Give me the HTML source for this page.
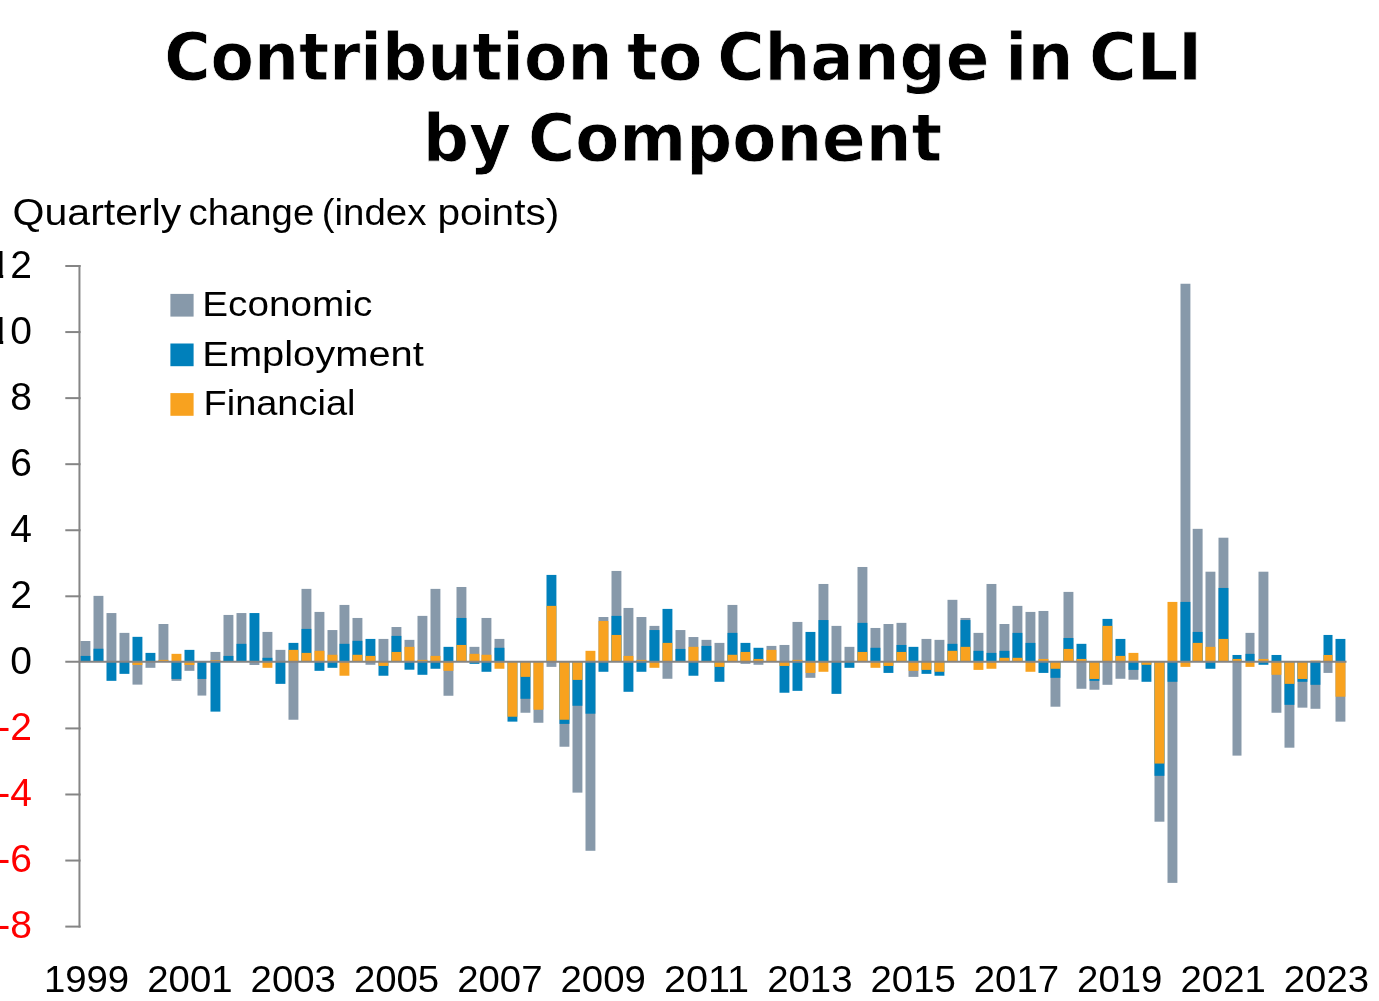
<!DOCTYPE html>
<html lang="en"><head><meta charset="utf-8"><title>Contribution to Change in CLI by Component</title>
<style>html,body{margin:0;padding:0;background:#fff}body{width:1379px;height:1001px;overflow:hidden}svg{display:block}.t{font-family:"Liberation Sans",sans-serif;fill:#000}.h{font-family:"Liberation Sans",sans-serif;font-weight:bold;fill:#000}.r{fill:#FF0000}</style></head><body>
<svg width="1379" height="1001" viewBox="0 0 1379 1001">
<rect width="1379" height="1001" fill="#fff"/>
<g id="title" font-family="DejaVu Sans, Liberation Sans, sans-serif" fill="#000" font-weight="bold" stroke="#fff" stroke-width="0.8">
<text x="164.22" y="80.4" font-size="66.5" textLength="448.19" lengthAdjust="spacingAndGlyphs">Contribution</text>
<text x="627.09" y="80.4" font-size="66.5" textLength="75.41" lengthAdjust="spacingAndGlyphs">to</text>
<text x="717.19" y="80.4" font-size="66.5" textLength="272.19" lengthAdjust="spacingAndGlyphs">Change</text>
<text x="1005.36" y="80.4" font-size="66.5" textLength="68.04" lengthAdjust="spacingAndGlyphs">in</text>
<text x="1089.00" y="80.4" font-size="66.5" textLength="113.31" lengthAdjust="spacingAndGlyphs">CLI</text>
<text x="422.82" y="160.6" font-size="66.5" textLength="88.45" lengthAdjust="spacingAndGlyphs">by</text>
<text x="528.05" y="160.6" font-size="66.5" textLength="414.08" lengthAdjust="spacingAndGlyphs">Component</text>
</g>
<g id="subtitle">
<text class="t" x="12.57" y="225.3" font-size="37" textLength="168.84" lengthAdjust="spacingAndGlyphs">Quarterly</text>
<text class="t" x="188.57" y="225.3" font-size="37" textLength="125.67" lengthAdjust="spacingAndGlyphs">change</text>
<text class="t" x="321.75" y="225.3" font-size="37" textLength="104.65" lengthAdjust="spacingAndGlyphs">(index</text>
<text class="t" x="437.48" y="225.3" font-size="37" textLength="121.81" lengthAdjust="spacingAndGlyphs">points)</text>
</g>
<g id="bars" shape-rendering="auto">
<rect x="80.50" y="641.00" width="9.9" height="20.96" fill="#8799AA"/>
<rect x="80.50" y="655.91" width="9.9" height="6.04" fill="#0080BB"/>
<rect x="93.50" y="595.87" width="9.9" height="66.09" fill="#8799AA"/>
<rect x="93.50" y="648.74" width="9.9" height="13.22" fill="#0080BB"/>
<rect x="106.50" y="613.05" width="9.9" height="48.90" fill="#8799AA"/>
<rect x="106.50" y="661.96" width="9.9" height="18.88" fill="#0080BB"/>
<rect x="119.50" y="632.88" width="9.9" height="29.08" fill="#8799AA"/>
<rect x="119.50" y="661.96" width="9.9" height="11.90" fill="#0080BB"/>
<rect x="132.50" y="636.84" width="9.9" height="25.11" fill="#0080BB"/>
<rect x="132.50" y="661.96" width="9.9" height="22.66" fill="#8799AA"/>
<rect x="132.50" y="661.96" width="9.9" height="3.02" fill="#F8A21F"/>
<rect x="145.50" y="652.89" width="9.9" height="9.06" fill="#0080BB"/>
<rect x="145.50" y="661.96" width="9.9" height="5.85" fill="#8799AA"/>
<rect x="158.50" y="624.00" width="9.9" height="37.95" fill="#8799AA"/>
<rect x="158.50" y="659.88" width="9.9" height="2.08" fill="#F8A21F"/>
<rect x="171.50" y="653.84" width="9.9" height="8.12" fill="#F8A21F"/>
<rect x="171.50" y="661.96" width="9.9" height="18.88" fill="#8799AA"/>
<rect x="171.50" y="661.96" width="9.9" height="16.99" fill="#0080BB"/>
<rect x="184.50" y="649.87" width="9.9" height="12.08" fill="#0080BB"/>
<rect x="184.50" y="661.96" width="9.9" height="8.87" fill="#8799AA"/>
<rect x="184.50" y="661.96" width="9.9" height="3.02" fill="#F8A21F"/>
<rect x="197.50" y="661.96" width="8.8" height="33.61" fill="#8799AA"/>
<rect x="197.50" y="661.96" width="8.8" height="16.99" fill="#0080BB"/>
<rect x="210.50" y="651.95" width="9.9" height="10.01" fill="#8799AA"/>
<rect x="210.50" y="660.26" width="9.9" height="1.70" fill="#F8A21F"/>
<rect x="210.50" y="661.96" width="9.9" height="49.66" fill="#0080BB"/>
<rect x="223.50" y="614.94" width="9.9" height="47.02" fill="#8799AA"/>
<rect x="223.50" y="655.91" width="9.9" height="6.04" fill="#0080BB"/>
<rect x="236.50" y="613.05" width="9.9" height="48.90" fill="#8799AA"/>
<rect x="236.50" y="643.83" width="9.9" height="18.13" fill="#0080BB"/>
<rect x="249.50" y="613.05" width="9.9" height="48.90" fill="#0080BB"/>
<rect x="249.50" y="661.96" width="9.9" height="3.02" fill="#8799AA"/>
<rect x="262.50" y="631.93" width="9.9" height="30.02" fill="#8799AA"/>
<rect x="262.50" y="657.80" width="9.9" height="4.15" fill="#0080BB"/>
<rect x="262.50" y="661.96" width="9.9" height="5.85" fill="#F8A21F"/>
<rect x="275.50" y="649.87" width="9.9" height="12.08" fill="#8799AA"/>
<rect x="275.50" y="661.96" width="9.9" height="21.90" fill="#0080BB"/>
<rect x="288.50" y="642.89" width="9.9" height="19.07" fill="#0080BB"/>
<rect x="288.50" y="649.87" width="9.9" height="12.08" fill="#F8A21F"/>
<rect x="288.50" y="661.96" width="9.9" height="57.78" fill="#8799AA"/>
<rect x="301.50" y="588.88" width="9.9" height="73.07" fill="#8799AA"/>
<rect x="301.50" y="628.91" width="9.9" height="33.04" fill="#0080BB"/>
<rect x="301.50" y="652.89" width="9.9" height="9.06" fill="#F8A21F"/>
<rect x="314.50" y="611.92" width="9.9" height="50.04" fill="#8799AA"/>
<rect x="314.50" y="650.82" width="9.9" height="11.14" fill="#F8A21F"/>
<rect x="314.50" y="661.96" width="9.9" height="8.87" fill="#0080BB"/>
<rect x="327.50" y="630.05" width="9.9" height="31.91" fill="#8799AA"/>
<rect x="327.50" y="654.78" width="9.9" height="7.18" fill="#F8A21F"/>
<rect x="327.50" y="661.96" width="9.9" height="5.85" fill="#0080BB"/>
<rect x="339.50" y="604.93" width="9.9" height="57.02" fill="#8799AA"/>
<rect x="339.50" y="643.83" width="9.9" height="18.13" fill="#0080BB"/>
<rect x="339.50" y="661.96" width="9.9" height="13.78" fill="#F8A21F"/>
<rect x="352.50" y="617.96" width="9.9" height="44.00" fill="#8799AA"/>
<rect x="352.50" y="640.81" width="9.9" height="21.15" fill="#0080BB"/>
<rect x="352.50" y="654.78" width="9.9" height="7.18" fill="#F8A21F"/>
<rect x="365.50" y="638.92" width="9.9" height="23.04" fill="#0080BB"/>
<rect x="365.50" y="655.91" width="9.9" height="6.04" fill="#F8A21F"/>
<rect x="365.50" y="661.96" width="9.9" height="2.83" fill="#8799AA"/>
<rect x="378.50" y="638.92" width="9.9" height="23.04" fill="#8799AA"/>
<rect x="378.50" y="661.96" width="9.9" height="13.78" fill="#0080BB"/>
<rect x="378.50" y="661.96" width="9.9" height="3.97" fill="#F8A21F"/>
<rect x="391.50" y="627.02" width="9.9" height="34.93" fill="#8799AA"/>
<rect x="391.50" y="635.90" width="9.9" height="26.06" fill="#0080BB"/>
<rect x="391.50" y="651.95" width="9.9" height="10.01" fill="#F8A21F"/>
<rect x="404.50" y="639.86" width="9.9" height="22.09" fill="#8799AA"/>
<rect x="404.50" y="646.85" width="9.9" height="15.11" fill="#F8A21F"/>
<rect x="404.50" y="661.96" width="9.9" height="7.74" fill="#0080BB"/>
<rect x="417.50" y="615.88" width="9.9" height="46.07" fill="#8799AA"/>
<rect x="417.50" y="659.88" width="9.9" height="2.08" fill="#F8A21F"/>
<rect x="417.50" y="661.96" width="9.9" height="12.84" fill="#0080BB"/>
<rect x="430.50" y="588.88" width="9.9" height="73.07" fill="#8799AA"/>
<rect x="430.50" y="655.91" width="9.9" height="6.04" fill="#F8A21F"/>
<rect x="430.50" y="661.96" width="9.9" height="6.80" fill="#0080BB"/>
<rect x="443.50" y="646.85" width="9.9" height="15.11" fill="#0080BB"/>
<rect x="443.50" y="661.96" width="9.9" height="33.80" fill="#8799AA"/>
<rect x="443.50" y="661.96" width="9.9" height="8.87" fill="#F8A21F"/>
<rect x="456.50" y="586.99" width="9.9" height="74.96" fill="#8799AA"/>
<rect x="456.50" y="617.96" width="9.9" height="44.00" fill="#0080BB"/>
<rect x="456.50" y="644.96" width="9.9" height="16.99" fill="#F8A21F"/>
<rect x="469.50" y="646.85" width="9.9" height="15.11" fill="#8799AA"/>
<rect x="469.50" y="653.84" width="9.9" height="8.12" fill="#F8A21F"/>
<rect x="469.50" y="661.96" width="9.9" height="1.89" fill="#0080BB"/>
<rect x="481.50" y="617.96" width="9.9" height="44.00" fill="#8799AA"/>
<rect x="481.50" y="654.78" width="9.9" height="7.18" fill="#F8A21F"/>
<rect x="481.50" y="661.96" width="9.9" height="9.82" fill="#0080BB"/>
<rect x="494.50" y="638.92" width="9.9" height="23.04" fill="#8799AA"/>
<rect x="494.50" y="647.79" width="9.9" height="14.16" fill="#0080BB"/>
<rect x="494.50" y="661.96" width="9.9" height="6.80" fill="#F8A21F"/>
<rect x="507.50" y="661.96" width="9.9" height="59.67" fill="#0080BB"/>
<rect x="507.50" y="661.96" width="9.9" height="54.76" fill="#F8A21F"/>
<rect x="520.50" y="661.96" width="9.9" height="50.79" fill="#8799AA"/>
<rect x="520.50" y="661.96" width="9.9" height="36.82" fill="#0080BB"/>
<rect x="520.50" y="661.96" width="9.9" height="14.92" fill="#F8A21F"/>
<rect x="533.50" y="661.96" width="9.9" height="60.80" fill="#8799AA"/>
<rect x="533.50" y="661.96" width="9.9" height="47.77" fill="#F8A21F"/>
<rect x="546.50" y="574.91" width="9.9" height="87.05" fill="#0080BB"/>
<rect x="546.50" y="605.88" width="9.9" height="56.08" fill="#F8A21F"/>
<rect x="546.50" y="661.96" width="9.9" height="4.91" fill="#8799AA"/>
<rect x="559.50" y="661.96" width="9.9" height="84.78" fill="#8799AA"/>
<rect x="559.50" y="661.96" width="9.9" height="61.93" fill="#0080BB"/>
<rect x="559.50" y="661.96" width="9.9" height="57.78" fill="#F8A21F"/>
<rect x="572.50" y="661.96" width="9.9" height="130.66" fill="#8799AA"/>
<rect x="572.50" y="661.96" width="9.9" height="43.81" fill="#0080BB"/>
<rect x="572.50" y="661.96" width="9.9" height="17.94" fill="#F8A21F"/>
<rect x="585.50" y="650.82" width="9.9" height="11.14" fill="#F8A21F"/>
<rect x="585.50" y="661.96" width="9.9" height="188.82" fill="#8799AA"/>
<rect x="585.50" y="661.96" width="9.9" height="51.74" fill="#0080BB"/>
<rect x="598.50" y="617.02" width="9.9" height="44.94" fill="#8799AA"/>
<rect x="598.50" y="620.98" width="9.9" height="40.97" fill="#F8A21F"/>
<rect x="598.50" y="661.96" width="9.9" height="9.82" fill="#0080BB"/>
<rect x="611.50" y="570.94" width="9.9" height="91.01" fill="#8799AA"/>
<rect x="611.50" y="615.88" width="9.9" height="46.07" fill="#0080BB"/>
<rect x="611.50" y="634.95" width="9.9" height="27.00" fill="#F8A21F"/>
<rect x="623.50" y="607.95" width="9.9" height="54.00" fill="#8799AA"/>
<rect x="623.50" y="655.91" width="9.9" height="6.04" fill="#F8A21F"/>
<rect x="623.50" y="661.96" width="9.9" height="29.83" fill="#0080BB"/>
<rect x="636.50" y="617.02" width="9.9" height="44.94" fill="#8799AA"/>
<rect x="636.50" y="659.88" width="9.9" height="2.08" fill="#F8A21F"/>
<rect x="636.50" y="661.96" width="9.9" height="9.82" fill="#0080BB"/>
<rect x="649.50" y="625.89" width="9.9" height="36.06" fill="#8799AA"/>
<rect x="649.50" y="630.05" width="9.9" height="31.91" fill="#0080BB"/>
<rect x="649.50" y="661.96" width="9.9" height="5.85" fill="#F8A21F"/>
<rect x="662.50" y="608.90" width="9.9" height="53.06" fill="#0080BB"/>
<rect x="662.50" y="642.89" width="9.9" height="19.07" fill="#F8A21F"/>
<rect x="662.50" y="661.96" width="9.9" height="16.81" fill="#8799AA"/>
<rect x="675.50" y="630.05" width="9.9" height="31.91" fill="#8799AA"/>
<rect x="675.50" y="648.93" width="9.9" height="13.03" fill="#0080BB"/>
<rect x="688.50" y="637.03" width="9.9" height="24.92" fill="#8799AA"/>
<rect x="688.50" y="646.85" width="9.9" height="15.11" fill="#F8A21F"/>
<rect x="688.50" y="661.96" width="9.9" height="13.78" fill="#0080BB"/>
<rect x="701.50" y="639.86" width="9.9" height="22.09" fill="#8799AA"/>
<rect x="701.50" y="645.91" width="9.9" height="16.05" fill="#0080BB"/>
<rect x="714.50" y="642.89" width="9.9" height="19.07" fill="#8799AA"/>
<rect x="714.50" y="661.96" width="9.9" height="19.83" fill="#0080BB"/>
<rect x="714.50" y="661.96" width="9.9" height="4.91" fill="#F8A21F"/>
<rect x="727.50" y="604.93" width="9.9" height="57.02" fill="#8799AA"/>
<rect x="727.50" y="632.88" width="9.9" height="29.08" fill="#0080BB"/>
<rect x="727.50" y="654.78" width="9.9" height="7.18" fill="#F8A21F"/>
<rect x="740.50" y="642.89" width="9.9" height="19.07" fill="#0080BB"/>
<rect x="740.50" y="651.95" width="9.9" height="10.01" fill="#F8A21F"/>
<rect x="740.50" y="661.96" width="9.9" height="1.89" fill="#8799AA"/>
<rect x="753.50" y="647.79" width="9.9" height="14.16" fill="#0080BB"/>
<rect x="753.50" y="658.94" width="9.9" height="3.02" fill="#F8A21F"/>
<rect x="753.50" y="661.96" width="9.9" height="2.83" fill="#8799AA"/>
<rect x="766.50" y="645.91" width="9.9" height="16.05" fill="#8799AA"/>
<rect x="766.50" y="649.87" width="9.9" height="12.08" fill="#F8A21F"/>
<rect x="779.50" y="644.96" width="9.9" height="16.99" fill="#8799AA"/>
<rect x="779.50" y="661.96" width="9.9" height="30.78" fill="#0080BB"/>
<rect x="779.50" y="661.96" width="9.9" height="3.97" fill="#F8A21F"/>
<rect x="792.50" y="621.93" width="9.9" height="40.03" fill="#8799AA"/>
<rect x="792.50" y="659.88" width="9.9" height="2.08" fill="#F8A21F"/>
<rect x="792.50" y="661.96" width="9.9" height="28.89" fill="#0080BB"/>
<rect x="805.50" y="631.93" width="9.9" height="30.02" fill="#0080BB"/>
<rect x="805.50" y="661.96" width="9.9" height="15.86" fill="#8799AA"/>
<rect x="805.50" y="661.96" width="9.9" height="10.95" fill="#F8A21F"/>
<rect x="818.50" y="583.97" width="9.9" height="77.98" fill="#8799AA"/>
<rect x="818.50" y="620.04" width="9.9" height="41.92" fill="#0080BB"/>
<rect x="818.50" y="661.96" width="9.9" height="9.82" fill="#F8A21F"/>
<rect x="831.50" y="625.89" width="9.9" height="36.06" fill="#8799AA"/>
<rect x="831.50" y="661.96" width="9.9" height="31.91" fill="#0080BB"/>
<rect x="844.50" y="646.85" width="9.9" height="15.11" fill="#8799AA"/>
<rect x="844.50" y="661.96" width="9.9" height="5.85" fill="#0080BB"/>
<rect x="857.50" y="566.98" width="9.9" height="94.98" fill="#8799AA"/>
<rect x="857.50" y="622.87" width="9.9" height="39.09" fill="#0080BB"/>
<rect x="857.50" y="651.95" width="9.9" height="10.01" fill="#F8A21F"/>
<rect x="870.50" y="627.97" width="9.9" height="33.99" fill="#8799AA"/>
<rect x="870.50" y="647.79" width="9.9" height="14.16" fill="#0080BB"/>
<rect x="870.50" y="661.96" width="9.9" height="5.85" fill="#F8A21F"/>
<rect x="883.50" y="624.00" width="9.9" height="37.95" fill="#8799AA"/>
<rect x="883.50" y="661.96" width="9.9" height="10.95" fill="#0080BB"/>
<rect x="883.50" y="661.96" width="9.9" height="3.97" fill="#F8A21F"/>
<rect x="896.50" y="622.87" width="9.9" height="39.09" fill="#8799AA"/>
<rect x="896.50" y="644.96" width="9.9" height="16.99" fill="#0080BB"/>
<rect x="896.50" y="651.95" width="9.9" height="10.01" fill="#F8A21F"/>
<rect x="908.50" y="646.85" width="9.9" height="15.11" fill="#0080BB"/>
<rect x="908.50" y="661.96" width="9.9" height="14.92" fill="#8799AA"/>
<rect x="908.50" y="661.96" width="9.9" height="8.87" fill="#F8A21F"/>
<rect x="921.50" y="638.92" width="9.9" height="23.04" fill="#8799AA"/>
<rect x="921.50" y="661.96" width="9.9" height="11.90" fill="#0080BB"/>
<rect x="921.50" y="661.96" width="9.9" height="7.93" fill="#F8A21F"/>
<rect x="934.50" y="639.86" width="9.9" height="22.09" fill="#8799AA"/>
<rect x="934.50" y="661.96" width="9.9" height="13.78" fill="#0080BB"/>
<rect x="934.50" y="661.96" width="9.9" height="9.82" fill="#F8A21F"/>
<rect x="947.50" y="599.83" width="9.9" height="62.12" fill="#8799AA"/>
<rect x="947.50" y="643.83" width="9.9" height="18.13" fill="#0080BB"/>
<rect x="947.50" y="650.82" width="9.9" height="11.14" fill="#F8A21F"/>
<rect x="960.50" y="617.96" width="9.9" height="44.00" fill="#8799AA"/>
<rect x="960.50" y="620.04" width="9.9" height="41.92" fill="#0080BB"/>
<rect x="960.50" y="646.85" width="9.9" height="15.11" fill="#F8A21F"/>
<rect x="973.50" y="632.88" width="9.9" height="29.08" fill="#8799AA"/>
<rect x="973.50" y="650.82" width="9.9" height="11.14" fill="#0080BB"/>
<rect x="973.50" y="661.96" width="9.9" height="7.93" fill="#F8A21F"/>
<rect x="986.50" y="583.97" width="9.9" height="77.98" fill="#8799AA"/>
<rect x="986.50" y="652.89" width="9.9" height="9.06" fill="#0080BB"/>
<rect x="986.50" y="661.96" width="9.9" height="6.80" fill="#F8A21F"/>
<rect x="999.50" y="624.00" width="9.9" height="37.95" fill="#8799AA"/>
<rect x="999.50" y="650.82" width="9.9" height="11.14" fill="#0080BB"/>
<rect x="999.50" y="657.80" width="9.9" height="4.15" fill="#F8A21F"/>
<rect x="1012.50" y="605.88" width="9.9" height="56.08" fill="#8799AA"/>
<rect x="1012.50" y="632.88" width="9.9" height="29.08" fill="#0080BB"/>
<rect x="1012.50" y="657.80" width="9.9" height="4.15" fill="#F8A21F"/>
<rect x="1025.50" y="611.92" width="9.9" height="50.04" fill="#8799AA"/>
<rect x="1025.50" y="642.89" width="9.9" height="19.07" fill="#0080BB"/>
<rect x="1025.50" y="661.96" width="9.9" height="9.82" fill="#F8A21F"/>
<rect x="1038.50" y="610.97" width="9.9" height="50.98" fill="#8799AA"/>
<rect x="1038.50" y="658.94" width="9.9" height="3.02" fill="#F8A21F"/>
<rect x="1038.50" y="661.96" width="9.9" height="10.95" fill="#0080BB"/>
<rect x="1050.50" y="661.96" width="9.9" height="44.75" fill="#8799AA"/>
<rect x="1050.50" y="661.96" width="9.9" height="15.86" fill="#0080BB"/>
<rect x="1050.50" y="661.96" width="9.9" height="6.80" fill="#F8A21F"/>
<rect x="1063.50" y="591.90" width="9.9" height="70.05" fill="#8799AA"/>
<rect x="1063.50" y="637.98" width="9.9" height="23.98" fill="#0080BB"/>
<rect x="1063.50" y="648.93" width="9.9" height="13.03" fill="#F8A21F"/>
<rect x="1076.50" y="643.83" width="9.9" height="18.13" fill="#0080BB"/>
<rect x="1076.50" y="658.94" width="9.9" height="3.02" fill="#F8A21F"/>
<rect x="1076.50" y="661.96" width="9.9" height="26.81" fill="#8799AA"/>
<rect x="1089.50" y="661.96" width="9.9" height="27.76" fill="#8799AA"/>
<rect x="1089.50" y="661.96" width="9.9" height="18.88" fill="#0080BB"/>
<rect x="1089.50" y="661.96" width="9.9" height="16.99" fill="#F8A21F"/>
<rect x="1102.50" y="618.90" width="9.9" height="43.05" fill="#0080BB"/>
<rect x="1102.50" y="625.89" width="9.9" height="36.06" fill="#F8A21F"/>
<rect x="1102.50" y="661.96" width="9.9" height="22.85" fill="#8799AA"/>
<rect x="1115.50" y="638.92" width="9.9" height="23.04" fill="#0080BB"/>
<rect x="1115.50" y="655.91" width="9.9" height="6.04" fill="#F8A21F"/>
<rect x="1115.50" y="661.96" width="9.9" height="16.81" fill="#8799AA"/>
<rect x="1128.50" y="652.89" width="9.9" height="9.06" fill="#F8A21F"/>
<rect x="1128.50" y="661.96" width="9.9" height="17.75" fill="#8799AA"/>
<rect x="1128.50" y="661.96" width="9.9" height="7.93" fill="#0080BB"/>
<rect x="1141.50" y="661.96" width="9.9" height="19.83" fill="#0080BB"/>
<rect x="1141.50" y="661.96" width="9.9" height="2.83" fill="#F8A21F"/>
<rect x="1154.50" y="661.96" width="9.9" height="159.74" fill="#8799AA"/>
<rect x="1154.50" y="661.96" width="9.9" height="113.86" fill="#0080BB"/>
<rect x="1154.50" y="661.96" width="9.9" height="101.59" fill="#F8A21F"/>
<rect x="1167.50" y="601.91" width="9.9" height="60.05" fill="#F8A21F"/>
<rect x="1167.50" y="661.96" width="9.9" height="220.92" fill="#8799AA"/>
<rect x="1167.50" y="661.96" width="9.9" height="19.83" fill="#0080BB"/>
<rect x="1180.50" y="283.75" width="9.9" height="378.21" fill="#8799AA"/>
<rect x="1180.50" y="601.91" width="9.9" height="60.05" fill="#0080BB"/>
<rect x="1180.50" y="661.96" width="9.9" height="4.91" fill="#F8A21F"/>
<rect x="1192.70" y="528.84" width="9.9" height="133.12" fill="#8799AA"/>
<rect x="1192.70" y="631.93" width="9.9" height="30.02" fill="#0080BB"/>
<rect x="1192.70" y="642.89" width="9.9" height="19.07" fill="#F8A21F"/>
<rect x="1205.50" y="571.70" width="9.9" height="90.26" fill="#8799AA"/>
<rect x="1205.50" y="646.85" width="9.9" height="15.11" fill="#F8A21F"/>
<rect x="1205.50" y="661.96" width="9.9" height="6.80" fill="#0080BB"/>
<rect x="1218.50" y="537.71" width="9.9" height="124.24" fill="#8799AA"/>
<rect x="1218.50" y="587.94" width="9.9" height="74.02" fill="#0080BB"/>
<rect x="1218.50" y="638.92" width="9.9" height="23.04" fill="#F8A21F"/>
<rect x="1232.50" y="654.97" width="9.0" height="6.99" fill="#0080BB"/>
<rect x="1232.50" y="658.94" width="9.0" height="3.02" fill="#F8A21F"/>
<rect x="1232.50" y="661.96" width="9.0" height="93.66" fill="#8799AA"/>
<rect x="1245.50" y="632.88" width="9.0" height="29.08" fill="#8799AA"/>
<rect x="1245.50" y="653.84" width="9.0" height="8.12" fill="#0080BB"/>
<rect x="1245.50" y="661.96" width="9.0" height="4.91" fill="#F8A21F"/>
<rect x="1258.50" y="571.70" width="9.9" height="90.26" fill="#8799AA"/>
<rect x="1258.50" y="658.94" width="9.9" height="3.02" fill="#F8A21F"/>
<rect x="1258.50" y="661.96" width="9.9" height="2.83" fill="#0080BB"/>
<rect x="1271.50" y="654.97" width="9.9" height="6.99" fill="#0080BB"/>
<rect x="1271.50" y="661.96" width="9.9" height="50.79" fill="#8799AA"/>
<rect x="1271.50" y="661.96" width="9.9" height="12.84" fill="#F8A21F"/>
<rect x="1284.50" y="661.96" width="9.9" height="85.73" fill="#8799AA"/>
<rect x="1284.50" y="661.96" width="9.9" height="42.86" fill="#0080BB"/>
<rect x="1284.50" y="661.96" width="9.9" height="21.90" fill="#F8A21F"/>
<rect x="1297.50" y="661.96" width="9.9" height="45.69" fill="#8799AA"/>
<rect x="1297.50" y="661.96" width="9.9" height="19.83" fill="#0080BB"/>
<rect x="1297.50" y="661.96" width="9.9" height="16.99" fill="#F8A21F"/>
<rect x="1310.50" y="660.63" width="9.9" height="1.32" fill="#F8A21F"/>
<rect x="1310.50" y="661.96" width="9.9" height="46.83" fill="#8799AA"/>
<rect x="1310.50" y="661.96" width="9.9" height="22.85" fill="#0080BB"/>
<rect x="1323.50" y="634.95" width="9.0" height="27.00" fill="#0080BB"/>
<rect x="1323.50" y="654.97" width="9.0" height="6.99" fill="#F8A21F"/>
<rect x="1323.50" y="661.96" width="9.0" height="10.95" fill="#8799AA"/>
<rect x="1335.50" y="638.92" width="9.9" height="23.04" fill="#0080BB"/>
<rect x="1335.50" y="661.96" width="9.9" height="59.67" fill="#8799AA"/>
<rect x="1335.50" y="661.96" width="9.9" height="34.74" fill="#F8A21F"/>
</g>
<g id="axes" stroke="#858585" stroke-width="2" fill="none">
<line x1="79.45" y1="265" x2="79.45" y2="927.4"/>
<line x1="65.3" y1="266.00" x2="80.6" y2="266.00"/>
<line x1="65.3" y1="332.06" x2="80.6" y2="332.06"/>
<line x1="65.3" y1="398.12" x2="80.6" y2="398.12"/>
<line x1="65.3" y1="464.18" x2="80.6" y2="464.18"/>
<line x1="65.3" y1="530.24" x2="80.6" y2="530.24"/>
<line x1="65.3" y1="596.30" x2="80.6" y2="596.30"/>
<line x1="65.3" y1="661.86" x2="1346.5" y2="661.86"/>
<line x1="65.3" y1="728.42" x2="80.6" y2="728.42"/>
<line x1="65.3" y1="794.48" x2="80.6" y2="794.48"/>
<line x1="65.3" y1="860.54" x2="80.6" y2="860.54"/>
<line x1="65.3" y1="926.60" x2="80.6" y2="926.60"/>
</g>
<g id="ylabels" font-size="39" text-anchor="end">
<text class="t" x="10.9 32" y="277.8">12</text><rect x="3.2" y="246.0" width="7" height="36" fill="#fff"/>
<text class="t" x="10.9 32" y="343.9">10</text><rect x="3.2" y="312.1" width="7" height="36" fill="#fff"/>
<text class="t" x="32" y="409.9">8</text>
<text class="t" x="32" y="476.0">6</text>
<text class="t" x="32" y="542.0">4</text>
<text class="t" x="32" y="608.1">2</text>
<text class="t" x="32" y="674.2">0</text>
<text class="t r" x="32" y="740.2">-2</text>
<text class="t r" x="32" y="806.3">-4</text>
<text class="t r" x="32" y="872.3">-6</text>
<text class="t r" x="32" y="938.4">-8</text>
</g>
<g id="xlabels" font-size="36">
<text class="t" x="43.9" y="991.5" textLength="85.3" lengthAdjust="spacingAndGlyphs">1999</text>
<text class="t" x="147.3" y="991.5" textLength="85.3" lengthAdjust="spacingAndGlyphs">2001</text>
<text class="t" x="250.6" y="991.5" textLength="85.3" lengthAdjust="spacingAndGlyphs">2003</text>
<text class="t" x="353.9" y="991.5" textLength="85.3" lengthAdjust="spacingAndGlyphs">2005</text>
<text class="t" x="457.2" y="991.5" textLength="85.3" lengthAdjust="spacingAndGlyphs">2007</text>
<text class="t" x="560.5" y="991.5" textLength="85.3" lengthAdjust="spacingAndGlyphs">2009</text>
<text class="t" x="663.9" y="991.5" textLength="85.3" lengthAdjust="spacingAndGlyphs">2011</text>
<text class="t" x="767.2" y="991.5" textLength="85.3" lengthAdjust="spacingAndGlyphs">2013</text>
<text class="t" x="870.5" y="991.5" textLength="85.3" lengthAdjust="spacingAndGlyphs">2015</text>
<text class="t" x="973.8" y="991.5" textLength="85.3" lengthAdjust="spacingAndGlyphs">2017</text>
<text class="t" x="1077.1" y="991.5" textLength="85.3" lengthAdjust="spacingAndGlyphs">2019</text>
<text class="t" x="1180.5" y="991.5" textLength="85.3" lengthAdjust="spacingAndGlyphs">2021</text>
<text class="t" x="1283.8" y="991.5" textLength="85.3" lengthAdjust="spacingAndGlyphs">2023</text>
</g>
<g id="legend">
<rect x="170.4" y="293.9" width="23.2" height="22.7" fill="#8799AA"/>
<text class="t" x="202.30" y="316.3" font-size="35" textLength="169.95" lengthAdjust="spacingAndGlyphs">Economic</text>
<rect x="170.4" y="343.5" width="23.2" height="22.7" fill="#0080BB"/>
<text class="t" x="202.35" y="365.8" font-size="35" textLength="221.45" lengthAdjust="spacingAndGlyphs">Employment</text>
<rect x="170.4" y="393.1" width="23.2" height="22.7" fill="#F8A21F"/>
<text class="t" x="203.51" y="415.3" font-size="35" textLength="151.97" lengthAdjust="spacingAndGlyphs">Financial</text>
</g>
</svg></body></html>
